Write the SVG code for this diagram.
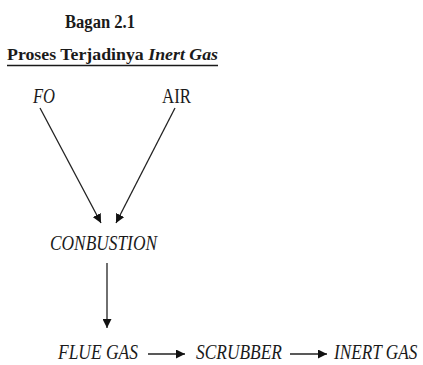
<svg xmlns="http://www.w3.org/2000/svg" width="423" height="365" viewBox="0 0 423 365">
<defs>
<marker id="ah" viewBox="0 0 10 10" refX="10" refY="5" markerWidth="9" markerHeight="9" markerUnits="userSpaceOnUse" orient="auto">
<path d="M0,0 L10,5 L0,10 z" fill="#111"/>
</marker>
</defs>
<style>
text{font-family:'Liberation Serif','Times New Roman',Times,serif;fill:#1a1a1a}
.n{font-style:italic;font-size:21px}
.c{stroke:#222;stroke-width:1.3;fill:none;marker-end:url(#ah)}
</style>
<rect width="423" height="365" fill="#fff"/>
<g id="title">
<text x="65" y="28" font-weight="bold" font-size="18" textLength="70" lengthAdjust="spacingAndGlyphs">Bagan 2.1</text>
<text x="7" y="60" font-weight="bold" font-size="17" textLength="211" lengthAdjust="spacingAndGlyphs">Proses Terjadinya <tspan font-style="italic">Inert Gas</tspan></text>
<line x1="7" y1="65.5" x2="218" y2="65.5" stroke="#1a1a1a" stroke-width="1.5"/>
</g>
<g id="fo"><text class="n" x="33" y="103" textLength="22" lengthAdjust="spacingAndGlyphs">FO</text></g>
<g id="air"><text x="162" y="103" font-size="21" textLength="29" lengthAdjust="spacingAndGlyphs">AIR</text></g>
<g id="combustion"><text class="n" x="50" y="250" textLength="107" lengthAdjust="spacingAndGlyphs">CONBUSTION</text></g>
<g id="fluegas"><text class="n" x="58" y="359" font-size="20" textLength="80" lengthAdjust="spacingAndGlyphs">FLUE GAS</text></g>
<g id="scrubber"><text class="n" x="196" y="359" font-size="20" textLength="86" lengthAdjust="spacingAndGlyphs">SCRUBBER</text></g>
<g id="inertgas"><text class="n" transform="translate(334,359) scale(0.82,1)" x="0" y="0" font-size="20">INERT GAS</text></g>
<g id="connectors">
<line class="c" x1="40" y1="108" x2="101" y2="223"/>
<line class="c" x1="175" y1="108" x2="116" y2="223"/>
<line class="c" x1="107" y1="263" x2="107" y2="328"/>
<line class="c" x1="148" y1="354" x2="185" y2="354"/>
<line class="c" x1="290" y1="354" x2="327" y2="354"/>
</g>
</svg>
